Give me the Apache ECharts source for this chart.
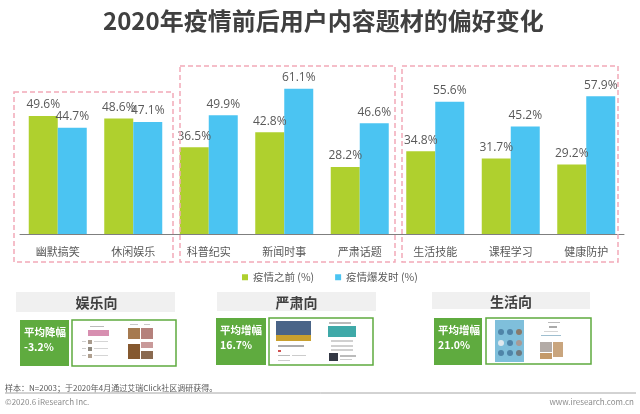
<!DOCTYPE html>
<html><head><meta charset="utf-8">
<style>html,body{margin:0;padding:0;background:#fff}#c{width:640px;height:414px}</style>
<script src="https://cdn.jsdelivr.net/npm/echarts@6/dist/echarts.min.js"></script></head>
<body><div id="c"></div>
<script>
const categories = ['幽默搞笑','休闲娱乐','科普纪实','新闻时事','严肃话题','生活技能','课程学习','健康防护'];
const beforeValues = [49.6,48.6,36.5,42.8,28.2,34.8,31.7,29.2];
const duringValues = [44.7,47.1,49.9,61.1,46.6,55.6,45.2,57.9];
const seriesNames = ['疫情之前 (%)','疫情爆发时 (%)'];
const groupNames = ['娱乐向','严肃向','生活向'];
const groupLabels = ['平均降幅\n-3.2%','平均增幅\n16.7%','平均增幅\n21.0%'];
const FONT = '"Noto Sans CJK SC","Noto Sans",sans-serif';
const GREEN='#5FAB3F', TXT='#595959';

const dashBoxes=[[14,92,159,170],[180,66,215,196],[402,66,216,196]];
const heads=[[16,292,159,20],[217,292,159,19],[432,292,158,17]];
const tags=[[20,320,49,46],[216,318,50,47],[434,318,48,47]];
const frames=[[72,320,104,46],[269,318,104,47],[486,318,105,46]];
const thumbs=[
 [88,330,21,6,'#d78fb0'],[90,326,14,1,'#bbbbbb'],[88,340,4,4,'#a89a8c'],[94,341,14,1,'#d5d5d5'],[88,347,4,4,'#8f8a80'],[94,348,14,1,'#d5d5d5'],[88,354,4,4,'#b0a090'],[94,355,14,1,'#d5d5d5'],[82,341,4,1,'#cccccc'],[82,348,4,1,'#cccccc'],[82,355,4,1,'#cccccc'],
 [128,328,12,11,'#a67a50'],[141,328,12,11,'#b5817c'],[128,344,12,15,'#85582f'],[141,342,12,6,'#c99a9a'],[141,351,12,8,'#8a6a50'],[130,324,8,1,'#c8c8c8'],[144,324,6,1,'#c8c8c8'],
 [276,321,35,14,'#4a6488'],[276,335,35,6,'#c9a02f'],[278,345,26,2,'#aaaaaa'],[278,350,3,2,'#d05050'],[278,355,12,1,'#bbbbbb'],[292,355,14,1,'#cccccc'],[278,360,12,1,'#cccccc'],
 [329,322,22,2,'#bbbbbb'],[328,326,28,11,'#3fa9a8'],[331,340,22,2,'#d0d0d0'],[331,345,22,2,'#d0d0d0'],[331,349,22,2,'#d0d0d0'],[329,353,9,8,'#333844'],[340,355,16,2,'#bbbbbb'],[340,359,12,1,'#cccccc'],
 [495,320,29,42,'#7fbfdb'],[498,329,6,6,'#4f84a8',3],[507,329,6,6,'#4f84a8',3],[516,329,6,6,'#8a7a6a',3],[498,340,6,6,'#e0e8ee',3],[507,340,6,6,'#4f84a8',3],[516,340,6,6,'#a89a95',3],[498,350,6,6,'#4f84a8',3],[507,350,6,6,'#4f84a8',3],[516,350,6,6,'#6f7a80',3],
 [540,342,12,10,'#b3aba6'],[553,342,10,15,'#c9a57e'],[540,353,12,6,'#c49a6a'],[548,322,12,1,'#bbbbbb'],[549,326,8,2,'#aaaaaa'],[541,335,20,1,'#9fbfd0'],[544,331,14,1,'#d5d5d5']
];
const g=[];
dashBoxes.forEach(b=>g.push({type:'rect',shape:{x:b[0],y:b[1],width:b[2],height:b[3]},style:{fill:null,stroke:'#F2A9B8',lineWidth:1.5,lineDash:[5,3]},z:5}));
heads.forEach((b,i)=>{
 g.push({type:'rect',shape:{x:b[0],y:b[1],width:b[2],height:b[3]},style:{fill:'#F0F0F0'}});
 g.push({type:'text',x:b[0]+b[2]/2+(i===0?1:0),y:b[1]+b[3]/2+1,style:{text:groupNames[i],font:'bold 14px '+FONT,fill:'#404040',textAlign:'center',textVerticalAlign:'middle'},z:6});
});
tags.forEach((b,i)=>{
 g.push({type:'rect',shape:{x:b[0],y:b[1],width:b[2],height:b[3]},style:{fill:GREEN}});
 g.push({type:'text',x:b[0]+4,y:b[1]+5,style:{text:groupLabels[i],font:'bold 10.5px '+FONT,fill:'#fff',lineHeight:15,textAlign:'left',textVerticalAlign:'top'},z:6});
});
frames.forEach(b=>g.push({type:'rect',shape:{x:b[0],y:b[1],width:b[2],height:b[3]},style:{fill:'#fff',stroke:GREEN,lineWidth:1.5}}));
thumbs.forEach(t=>g.push({type:'rect',shape:{x:t[0],y:t[1],width:t[2],height:t[3],r:t[5]||0},style:{fill:t[4]},z:4}));
g.push({type:'line',shape:{x1:5,y1:393,x2:636,y2:393},style:{stroke:'#A6A6A6',lineWidth:1}});
g.push({type:'text',x:5,y:388,style:{text:'样本：N=2003；于2020年4月通过艾瑞Click社区调研获得。',font:'8px '+FONT,fill:'#595959',textVerticalAlign:'middle'}});
g.push({type:'text',x:5,y:402,style:{text:'©2020.6 iResearch Inc.',font:'8px '+FONT,fill:'#8c8c8c',textVerticalAlign:'middle'}});
g.push({type:'text',x:634,y:402,style:{text:'www.iresearch.com.cn',font:'8px '+FONT,fill:'#8c8c8c',textAlign:'right',textVerticalAlign:'middle'}});

const lab={show:true,position:'top',distance:5,color:TXT,fontSize:12,fontFamily:'"Open Sans",'+FONT,formatter:p=>p.value.toFixed(1)+'%'};
const chart=echarts.init(document.getElementById('c'),null,{renderer:'canvas'});
chart.setOption({
 animation:false,backgroundColor:'#fff',
 title:{text:'2020年疫情前后用户内容题材的偏好变化',left:98,top:4,textStyle:{fontFamily:FONT,fontWeight:'bold',fontSize:24,color:'#404040'}},
 legend:{left:237,top:267,itemWidth:6,itemHeight:6,itemGap:21,icon:'rect',textStyle:{fontFamily:FONT,fontSize:10.5,color:TXT}},
 grid:{left:20,width:604,top:67.5,height:166.5},
 xAxis:{type:'category',data:categories,axisTick:{show:false},axisLine:{lineStyle:{color:'#7F7F7F',width:1}},axisLabel:{fontFamily:FONT,fontSize:11,color:TXT,margin:12,interval:0}},
 yAxis:{type:'value',min:0,max:70,show:false,splitLine:{show:false}},
 series:[
  {name:seriesNames[0],type:'bar',data:beforeValues,barWidth:29,barGap:0,itemStyle:{color:'#AFD02E'},label:lab},
  {name:seriesNames[1],type:'bar',data:duringValues,barWidth:29,barGap:0,itemStyle:{color:'#4BC4F2'},label:lab}
 ],
 graphic:{elements:g}
});
</script></body></html>
